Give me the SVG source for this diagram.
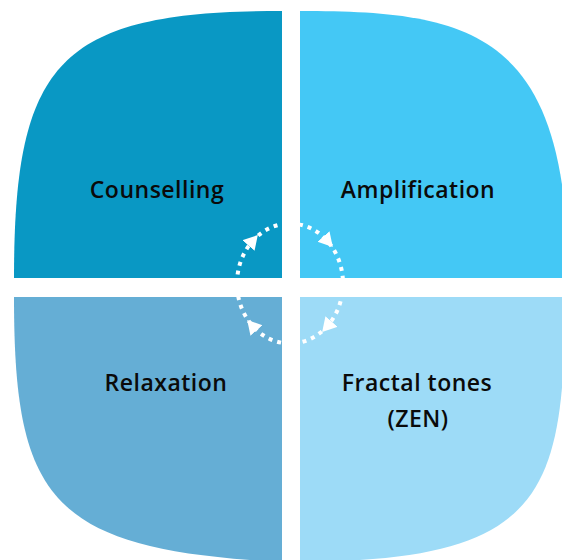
<svg xmlns="http://www.w3.org/2000/svg" width="562" height="560" viewBox="0 0 562 560">
<style>
.lbl{font-family:"Open Sans","Noto Sans",sans-serif;font-weight:600;font-size:23px;letter-spacing:0.5px;fill:#0a0a0a;text-anchor:middle}
.dots{fill:none;stroke:#ffffff;stroke-width:4;stroke-dasharray:4 5;marker-mid:url(#arr)}
</style>
<defs>
<marker id="arr" markerUnits="userSpaceOnUse" markerWidth="16" markerHeight="18" refX="6" refY="8" orient="auto">
<path d="M0,0 L14,8 L0,16 Z" fill="#ffffff"/>
</marker>
</defs>
<rect width="562" height="560" fill="#ffffff"/>
<g id="counselling">
<path d="M282,278 L14,278 C14,60 60,11 282,11 Z" fill="#0998c4"/>
<text class="lbl" x="157" y="198">Counselling</text>
</g>
<g id="amplification">
<path d="M300,278 L300,11 C470,11 568,30 568,278 Z" fill="#44c8f5"/>
<text class="lbl" x="418" y="198">Amplification</text>
</g>
<g id="relaxation">
<path d="M282,297 L14,297 C14,500 50,550 282,562 Z" fill="#65aed5"/>
<text class="lbl" x="166" y="391">Relaxation</text>
</g>
<g id="fractal">
<path d="M300,297 L565,297 C565,500 540,560 300,562 Z" fill="#9ddbf7"/>
<text class="lbl" x="417" y="391">Fractal tones</text>
<text class="lbl" x="418" y="427">(ZEN)</text>
</g>
<g id="connectors">
<path class="dots" d="M237,283.5 A53,60 0 0 1 252.52,241.07 A53,60 0 0 1 290,223.5"/>
<path class="dots" d="M290,223.5 A53,60 0 0 1 327.48,241.07 A53,60 0 0 1 343,283.5"/>
<path class="dots" d="M343,283.5 A53,60 0 0 1 327.48,325.93 A53,60 0 0 1 290,343.5"/>
<path class="dots" d="M290,343.5 A53,60 0 0 1 252.52,325.93 A53,60 0 0 1 237,283.5"/>
</g>
</svg>
